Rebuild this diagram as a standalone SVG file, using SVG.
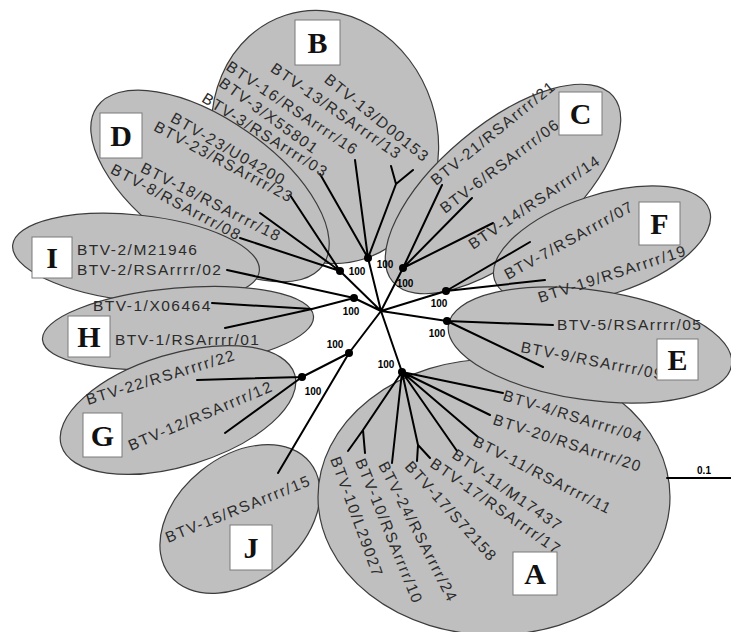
<svg xmlns="http://www.w3.org/2000/svg" width="731" height="632" viewBox="0 0 731 632">
<style>
.el{fill:#bfbfbf;stroke:#3c3c3c;stroke-width:1.2}
.br{stroke:#000;stroke-width:2;fill:none;stroke-linecap:round}
.lab{font-family:"Liberation Sans",Arial,sans-serif;font-size:15.5px;letter-spacing:1.5px;fill:#2b2b2b}
.end{text-anchor:end}
.bs{font-family:"Liberation Sans",Arial,sans-serif;font-size:10px;font-weight:bold;fill:#000;text-anchor:middle}
.box{fill:#fff;stroke:#7a7a7a;stroke-width:1}
.let{font-family:"Liberation Serif","Times New Roman",serif;font-size:30px;font-weight:bold;fill:#111;text-anchor:middle}
.dot{fill:#000}
</style>
<rect width="731" height="632" fill="#fff"/>
<g id="clusters">
<g id="clade-B"><ellipse class="el" cx="325" cy="137" rx="112" ry="128" transform="rotate(-18 325 137)"/></g>
<g id="clade-D"><ellipse class="el" cx="210" cy="186" rx="138" ry="66" transform="rotate(35 210 186)"/></g>
<g id="clade-I"><ellipse class="el" cx="136" cy="258" rx="124" ry="43" transform="rotate(6 136 258)"/></g>
<g id="clade-H"><ellipse class="el" cx="178" cy="328" rx="136" ry="40" transform="rotate(-5 178 328)"/></g>
<g id="clade-G"><ellipse class="el" cx="178" cy="410" rx="122" ry="56" transform="rotate(-17 178 410)"/></g>
<g id="clade-J"><ellipse class="el" cx="240" cy="519" rx="90" ry="62" transform="rotate(-39 240 519)"/></g>
<g id="clade-A"><ellipse class="el" cx="494" cy="497" rx="176" ry="138"/></g>
<g id="clade-C"><ellipse class="el" cx="503" cy="189" rx="144" ry="64" transform="rotate(-40 503 189)"/></g>
<g id="clade-F"><ellipse class="el" cx="602" cy="245" rx="113" ry="50" transform="rotate(-18 602 245)"/></g>
<g id="clade-E"><ellipse class="el" cx="590" cy="345" rx="143" ry="55" transform="rotate(8 590 345)"/></g>
</g>
<g id="connectors">
<path class="br" d="M381 311L340 271M381 311L368 258M381 311L403 268M381 311L446 291M381 311L447 321M381 311L354 298M381 311L349 353M381 311L402 372"/>
<path class="br" d="M340 271L290 195M340 271L260 213M340 271L240 238"/>
<path class="br" d="M368 258L320 174M368 258L355 160M368 258L396 184L391 166M396 184L413 170"/>
<path class="br" d="M403 268L442 185M403 268L472 198M403 268L493 223"/>
<path class="br" d="M446 291L530 242M446 291L545 280"/>
<path class="br" d="M447 321L553 325M447 321L543 367"/>
<path class="br" d="M354 298L227 270M354 298L312 309L212 303M312 309L225 328"/>
<path class="br" d="M349 353L302 377M349 353L278 473M302 377L197 380M302 377L225 433"/>
<path class="br" d="M402 372L503 393M402 372L490 415M402 372L478 437M402 372L457 451M402 372L418 445L430 458M418 445L417 461M402 372L392 463M402 372L363 430L365 453M363 430L348 451"/>
<path class="br" d="M667 478L731 478"/>
</g>
<g id="bootstrap-nodes">
<circle class="dot" cx="340" cy="271" r="4"/>
<circle class="dot" cx="368" cy="258" r="4"/>
<circle class="dot" cx="403" cy="268" r="4"/>
<circle class="dot" cx="446" cy="291" r="4"/>
<circle class="dot" cx="447" cy="321" r="4"/>
<circle class="dot" cx="354" cy="298" r="4"/>
<circle class="dot" cx="349" cy="353" r="4"/>
<circle class="dot" cx="302" cy="377" r="4"/>
<circle class="dot" cx="402" cy="372" r="4"/>
<text class="bs" x="357" y="275">100</text>
<text class="bs" x="385" y="268">100</text>
<text class="bs" x="405" y="287">100</text>
<text class="bs" x="439" y="307">100</text>
<text class="bs" x="437" y="337">100</text>
<text class="bs" x="351" y="315">100</text>
<text class="bs" x="335" y="348">100</text>
<text class="bs" x="313" y="395">100</text>
<text class="bs" x="386" y="368">100</text>
<text class="bs" x="704" y="474">0.1</text>
</g>
<g id="labels">
<text class="lab end" x="424" y="163" transform="rotate(39 424 163)">BTV-13/D00153</text>
<text class="lab end" x="397" y="160" transform="rotate(35 397 160)">BTV-13/RSArrrr/13</text>
<text class="lab end" x="354" y="156" transform="rotate(34 354 156)">BTV-16/RSArrrr/16</text>
<text class="lab end" x="314" y="155" transform="rotate(36 314 155)">BTV-3/X55801</text>
<text class="lab end" x="324" y="178" transform="rotate(32 324 178)">BTV-3/RSArrrr/03</text>
<text class="lab end" x="282" y="186" transform="rotate(30 282 186)">BTV-23/U04200</text>
<text class="lab end" x="290" y="203" transform="rotate(28 290 203)">BTV-23/RSArrrr/23</text>
<text class="lab end" x="278" y="242" transform="rotate(27 278 242)">BTV-18/RSArrrr/18</text>
<text class="lab end" x="238" y="241" transform="rotate(28 238 241)">BTV-8/RSArrrr/08</text>
<text class="lab" x="77" y="255">BTV-2/M21946</text>
<text class="lab" x="77" y="275">BTV-2/RSArrrr/02</text>
<text class="lab" x="93" y="311">BTV-1/X06464</text>
<text class="lab" x="115" y="345">BTV-1/RSArrrr/01</text>
<text class="lab" x="88" y="405" transform="rotate(-17 88 405)">BTV-22/RSArrrr/22</text>
<text class="lab" x="131" y="451" transform="rotate(-23 131 451)">BTV-12/RSArrrr/12</text>
<text class="lab" x="168" y="543" transform="rotate(-22 168 543)">BTV-15/RSArrrr/15</text>
<text class="lab" x="436" y="186" transform="rotate(-39 436 186)">BTV-21/RSArrrr/21</text>
<text class="lab" x="445" y="214" transform="rotate(-37 445 214)">BTV-6/RSArrrr/06</text>
<text class="lab" x="473" y="250" transform="rotate(-34 473 250)">BTV-14/RSArrrr/14</text>
<text class="lab" x="508" y="280" transform="rotate(-29 508 280)">BTV-7/RSArrrr/07</text>
<text class="lab" x="540" y="303" transform="rotate(-18 540 303)">BTV-19/RSArrrr/19</text>
<text class="lab" x="557" y="330">BTV-5/RSArrrr/05</text>
<text class="lab" x="520" y="352" transform="rotate(11 520 352)">BTV-9/RSArrrr/09</text>
<text class="lab" x="502" y="400" transform="rotate(17 502 400)">BTV-4/RSArrrr/04</text>
<text class="lab" x="492" y="424" transform="rotate(18 492 424)">BTV-20/RSArrrr/20</text>
<text class="lab" x="472" y="445" transform="rotate(27 472 445)">BTV-11/RSArrrr/11</text>
<text class="lab" x="451" y="457" transform="rotate(35 451 457)">BTV-11/M17437</text>
<text class="lab" x="429" y="466" transform="rotate(35 429 466)">BTV-17/RSArrrr/17</text>
<text class="lab" x="404" y="467" transform="rotate(48 404 467)">BTV-17/S72158</text>
<text class="lab" x="378" y="465" transform="rotate(63 378 465)">BTV-24/RSArrrr/24</text>
<text class="lab" x="355" y="461" transform="rotate(68 355 461)">BTV-10/RSArrrr/10</text>
<text class="lab" x="330" y="459" transform="rotate(70 330 459)">BTV-10/L29027</text>
</g>
<g id="box-B"><rect class="box" x="295" y="20" width="45" height="45"/><text class="let" x="317.5" y="53">B</text></g>
<g id="box-C"><rect class="box" x="559" y="92" width="43" height="43"/><text class="let" x="580.5" y="124">C</text></g>
<g id="box-D"><rect class="box" x="100" y="113" width="42" height="45"/><text class="let" x="121" y="146">D</text></g>
<g id="box-F"><rect class="box" x="639" y="202" width="41" height="43"/><text class="let" x="659.5" y="234">F</text></g>
<g id="box-E"><rect class="box" x="657" y="339" width="41" height="41"/><text class="let" x="677.5" y="370">E</text></g>
<g id="box-A"><rect class="box" x="513" y="552" width="44" height="43"/><text class="let" x="535" y="584">A</text></g>
<g id="box-I"><rect class="box" x="32" y="237" width="40" height="41"/><text class="let" x="52" y="268">I</text></g>
<g id="box-H"><rect class="box" x="68" y="316" width="42" height="41"/><text class="let" x="89" y="347">H</text></g>
<g id="box-G"><rect class="box" x="83" y="413" width="39" height="44"/><text class="let" x="102.5" y="446">G</text></g>
<g id="box-J"><rect class="box" x="230" y="525" width="42" height="45"/><text class="let" x="251" y="558">J</text></g>
</svg>
